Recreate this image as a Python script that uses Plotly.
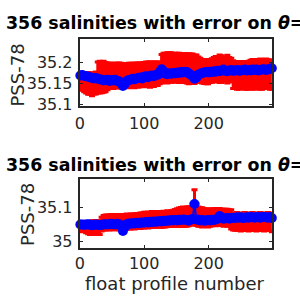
import plotly.graph_objects as go

# ---------------- data ----------------
profiles = list(range(1, 299, 3))  # float profile numbers (every 3rd shown)

top_float_sal = [
    35.168, 35.169, 35.167, 35.166, 35.165, 35.164, 35.162, 35.161, 35.162, 35.160,
    35.159, 35.158, 35.156, 35.157, 35.158, 35.155, 35.157, 35.156, 35.158, 35.155,
    35.154, 35.150, 35.143, 35.148, 35.155, 35.157, 35.158, 35.160, 35.159, 35.161,
    35.162, 35.163, 35.161, 35.165, 35.166, 35.164, 35.167, 35.168, 35.166, 35.169,
    35.170, 35.176, 35.183, 35.178, 35.172, 35.171, 35.173, 35.172, 35.174, 35.173,
    35.175, 35.174, 35.176, 35.175, 35.177, 35.176, 35.173, 35.170, 35.166, 35.160,
    35.163, 35.170, 35.172, 35.174, 35.175, 35.176, 35.175, 35.177, 35.176, 35.178,
    35.177, 35.179, 35.178, 35.180, 35.182, 35.179, 35.178, 35.180, 35.181, 35.179,
    35.180, 35.181, 35.179, 35.180, 35.181, 35.182, 35.180, 35.181, 35.180, 35.182,
    35.181, 35.182, 35.180, 35.181, 35.182, 35.183, 35.181, 35.182, 35.184, 35.185,
]
top_mapped_sal = [
    35.152, 35.153, 35.151, 35.150, 35.149, 35.148, 35.147, 35.149, 35.150, 35.163,
    35.164, 35.163, 35.165, 35.164, 35.166, 35.167, 35.168, 35.167, 35.169, 35.168,
    35.168, 35.169, 35.167, 35.168, 35.169, 35.168, 35.170, 35.169, 35.168, 35.170,
    35.169, 35.170, 35.171, 35.170, 35.172, 35.171, 35.170, 35.172, 35.171, 35.173,
    35.172, 35.174, 35.184, 35.186, 35.187, 35.186, 35.188, 35.187, 35.186, 35.188,
    35.187, 35.186, 35.185, 35.187, 35.186, 35.185, 35.184, 35.185, 35.184, 35.183,
    35.184, 35.182, 35.180, 35.178, 35.176, 35.177, 35.176, 35.178, 35.180, 35.182,
    35.183, 35.182, 35.184, 35.183, 35.182, 35.184, 35.183, 35.182, 35.181, 35.170,
    35.169, 35.168, 35.167, 35.168, 35.169, 35.168, 35.167, 35.169, 35.170, 35.171,
    35.170, 35.171, 35.172, 35.171, 35.170, 35.171, 35.172, 35.171, 35.170, 35.170,
]
top_map_err = [
    0.018, 0.020, 0.022, 0.024, 0.026, 0.025, 0.027, 0.025, 0.026, 0.037,
    0.038, 0.036, 0.037, 0.035, 0.032, 0.030, 0.029, 0.030, 0.028, 0.029,
    0.030, 0.028, 0.029, 0.028, 0.027, 0.029, 0.027, 0.028, 0.029, 0.028,
    0.029, 0.028, 0.027, 0.029, 0.028, 0.029, 0.030, 0.028, 0.029, 0.027,
    0.028, 0.026, 0.034, 0.035, 0.034, 0.036, 0.034, 0.035, 0.034, 0.033,
    0.034, 0.035, 0.034, 0.033, 0.034, 0.035, 0.036, 0.034, 0.035, 0.034,
    0.033, 0.030, 0.029, 0.028, 0.027, 0.029, 0.028, 0.027, 0.028, 0.029,
    0.030, 0.028, 0.033, 0.032, 0.027, 0.028, 0.033, 0.029, 0.028, 0.033,
    0.032, 0.033, 0.032, 0.031, 0.032, 0.033, 0.032, 0.033, 0.034, 0.035,
    0.034, 0.035, 0.034, 0.036, 0.035, 0.034, 0.035, 0.034, 0.035, 0.035,
]

bot_float_sal = [
    35.049, 35.049, 35.048, 35.049, 35.050, 35.048, 35.047, 35.048, 35.049, 35.048,
    35.047, 35.048, 35.049, 35.050, 35.049, 35.050, 35.051, 35.050, 35.049, 35.051,
    35.050, 35.045, 35.030, 35.042, 35.050, 35.052, 35.051, 35.053, 35.052, 35.054,
    35.053, 35.054, 35.055, 35.054, 35.056, 35.055, 35.057, 35.056, 35.058, 35.057,
    35.058, 35.059, 35.058, 35.060, 35.059, 35.061, 35.060, 35.062, 35.061, 35.062,
    35.061, 35.063, 35.062, 35.064, 35.063, 35.062, 35.060, 35.063, 35.065, 35.109,
    35.064, 35.063, 35.061, 35.062, 35.060, 35.061, 35.062, 35.061, 35.063, 35.062,
    35.064, 35.066, 35.074, 35.068, 35.066, 35.067, 35.068, 35.066, 35.068, 35.069,
    35.068, 35.070, 35.069, 35.070, 35.068, 35.069, 35.070, 35.069, 35.071, 35.070,
    35.069, 35.070, 35.071, 35.069, 35.070, 35.071, 35.070, 35.069, 35.071, 35.068,
]
bot_mapped_sal = [
    35.043, 35.042, 35.043, 35.041, 35.040, 35.039, 35.040, 35.041, 35.040, 35.041,
    35.040, 35.050, 35.054, 35.055, 35.056, 35.055, 35.056, 35.057, 35.056, 35.055,
    35.056, 35.057, 35.056, 35.057, 35.058, 35.057, 35.058, 35.059, 35.058, 35.060,
    35.059, 35.060, 35.061, 35.062, 35.063, 35.062, 35.063, 35.064, 35.063, 35.064,
    35.065, 35.064, 35.063, 35.065, 35.064, 35.066, 35.065, 35.066, 35.067, 35.068,
    35.069, 35.070, 35.071, 35.072, 35.071, 35.072, 35.073, 35.074, 35.080, 35.106,
    35.078, 35.072, 35.071, 35.070, 35.069, 35.070, 35.068, 35.069, 35.070, 35.071,
    35.070, 35.072, 35.071, 35.070, 35.069, 35.070, 35.069, 35.068, 35.064, 35.058,
    35.057, 35.058, 35.057, 35.056, 35.057, 35.058, 35.057, 35.056, 35.057, 35.058,
    35.057, 35.056, 35.057, 35.058, 35.057, 35.056, 35.057, 35.058, 35.057, 35.055,
]
bot_map_err = [
    0.013, 0.014, 0.013, 0.016, 0.018, 0.019, 0.020, 0.019, 0.020, 0.019,
    0.020, 0.020, 0.021, 0.022, 0.021, 0.022, 0.022, 0.021, 0.022, 0.021,
    0.022, 0.021, 0.022, 0.021, 0.022, 0.021, 0.022, 0.021, 0.022, 0.021,
    0.022, 0.023, 0.022, 0.023, 0.022, 0.023, 0.022, 0.023, 0.022, 0.023,
    0.022, 0.023, 0.022, 0.023, 0.022, 0.023, 0.022, 0.023, 0.024, 0.025,
    0.026, 0.027, 0.028, 0.028, 0.027, 0.028, 0.028, 0.027, 0.030, 0.045,
    0.032, 0.028, 0.027, 0.028, 0.026, 0.025, 0.026, 0.025, 0.025, 0.024,
    0.025, 0.024, 0.025, 0.024, 0.025, 0.024, 0.025, 0.024, 0.028, 0.025,
    0.025, 0.026, 0.025, 0.026, 0.025, 0.026, 0.025, 0.026, 0.025, 0.026,
    0.025, 0.026, 0.025, 0.026, 0.025, 0.026, 0.025, 0.026, 0.025, 0.027,
]

cal_profiles = [298, 298]
top_cal_sal = [35.152, 35.170]
bot_cal_sal = [35.034, 35.054]

x_ticks = [0, 100, 200]
x_tick_text = ["0", "100", "200"]
top_y_ticks = [35.1, 35.15, 35.2]
top_y_tick_text = ["35.1", "35.15", "35.2"]
bot_y_ticks = [35.0, 35.1]
bot_y_tick_text = ["35", "35.1"]

title_text = "<b>356 salinities with error on <i>θ</i>=</b>"
y_label = "PSS-78"
x_label = "float profile number"

# ---------------- figure ----------------
FONT = "DejaVu Sans"
AX = "#262626"
fig = go.Figure()


def add_panel(xa, ya, mapped, err, flt, cal):
    fig.add_trace(go.Scatter(
        x=profiles, y=mapped, xaxis=xa, yaxis=ya, mode="lines",
        line=dict(color="#ff0000", width=1),
        error_y=dict(type="data", array=err, visible=True, color="#ff0000",
                     thickness=3, width=3),
        cliponaxis=False, showlegend=False, hoverinfo="skip"))
    fig.add_trace(go.Scatter(
        x=cal_profiles, y=cal, xaxis=xa, yaxis=ya, mode="lines",
        line=dict(color="#00c000", width=1), cliponaxis=False,
        showlegend=False))
    fig.add_trace(go.Scatter(
        x=profiles, y=flt, xaxis=xa, yaxis=ya, mode="lines+markers",
        line=dict(color="#0000ff", width=2),
        marker=dict(color="#0000ff", size=10, line=dict(width=0)),
        cliponaxis=False, showlegend=False))


add_panel("x", "y", top_mapped_sal, top_map_err, top_float_sal, top_cal_sal)
add_panel("x2", "y2", bot_mapped_sal, bot_map_err, bot_float_sal, bot_cal_sal)

xdom = [76 / 300, 272 / 300]
axis_common = dict(showline=True, linecolor=AX, linewidth=2, mirror="ticks",
                   ticks="inside", ticklen=3, tickcolor=AX, tickwidth=1,
                   showgrid=False, zeroline=False,
                   tickfont=dict(family=FONT, size=16, color=AX))

fig.update_layout(
    width=300, height=300, margin=dict(l=0, r=0, t=0, b=0),
    paper_bgcolor="white", plot_bgcolor="white",
    xaxis=dict(domain=xdom, anchor="y", range=[0, 299], tickvals=x_ticks,
               ticktext=x_tick_text, ticklabelstandoff=1, **axis_common),
    yaxis=dict(domain=[1 - 109 / 300, 1 - 40 / 300], anchor="x",
               range=[35.0942, 35.2547], tickvals=top_y_ticks,
               ticktext=top_y_tick_text, ticklabelstandoff=2, **axis_common),
    xaxis2=dict(domain=xdom, anchor="y2", range=[0, 299], tickvals=x_ticks,
                ticktext=x_tick_text, ticklabelstandoff=0, **axis_common),
    yaxis2=dict(domain=[1 - 254 / 300, 1 - 183 / 300], anchor="x2",
                range=[34.98, 35.183], tickvals=bot_y_ticks,
                ticktext=bot_y_tick_text, ticklabelstandoff=2, **axis_common),
)

ann = []
for ty in (1 - 24 / 300, 1 - 169 / 300):
    ann.append(dict(text=title_text, xref="paper", yref="paper", x=-1 / 300,
                    y=ty, xanchor="left", yanchor="middle", showarrow=False,
                    font=dict(family=FONT, size=17.4, color="black")))
ann.append(dict(text=y_label, xref="paper", yref="paper", x=12.5 / 300,
                y=1 - 77 / 300, xanchor="center", yanchor="middle",
                textangle=-90, showarrow=False,
                font=dict(family=FONT, size=18, color=AX)))
ann.append(dict(text=y_label, xref="paper", yref="paper", x=23.5 / 300,
                y=1 - 220 / 300, xanchor="center", yanchor="middle",
                textangle=-90, showarrow=False,
                font=dict(family=FONT, size=18, color=AX)))
ann.append(dict(text=x_label, xref="paper", yref="paper", x=173 / 300,
                y=1 - 290 / 300, xanchor="center", yanchor="middle",
                showarrow=False, font=dict(family=FONT, size=18, color=AX)))
fig.update_layout(annotations=ann)

fig.write_html("out.html")
